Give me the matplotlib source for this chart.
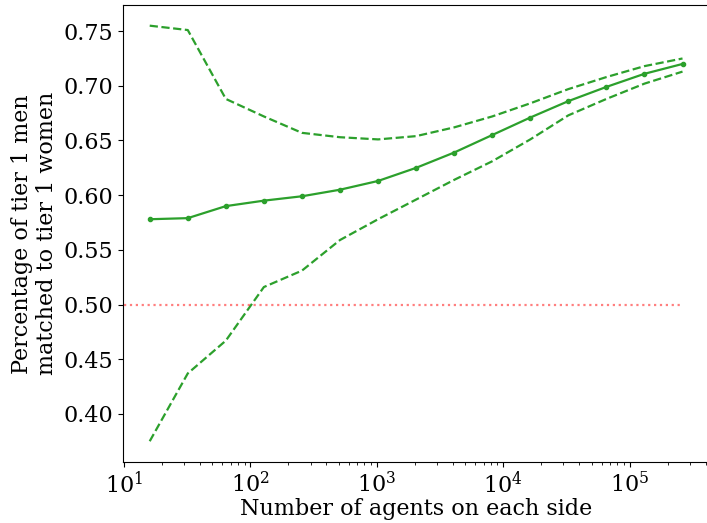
import numpy as np
import matplotlib
matplotlib.use('Agg')
import matplotlib.pyplot as plt

# number of agents on each side (powers of two)
n_agents = [16, 32, 64, 128, 256, 512, 1024, 2048, 4096, 8192,
            16384, 32768, 65536, 131072, 262144]

# mean share of tier 1 men matched to tier 1 women
mean_share = [0.578, 0.579, 0.590, 0.595, 0.599, 0.605, 0.613, 0.625,
              0.639, 0.655, 0.671, 0.686, 0.699, 0.711, 0.720]

# upper and lower bands
upper_share = [0.755, 0.751, 0.688, 0.672, 0.657, 0.653, 0.651, 0.654,
               0.662, 0.672, 0.684, 0.697, 0.708, 0.718, 0.725]
lower_share = [0.375, 0.437, 0.467, 0.516, 0.531, 0.559, 0.578, 0.596,
               0.614, 0.631, 0.651, 0.673, 0.688, 0.702, 0.713]

plt.rcParams['font.family'] = 'serif'
plt.rcParams['font.size'] = 16

fig = plt.figure(figsize=(7.07, 5.23), dpi=100)
ax = fig.add_axes([0.174, 0.1166, 0.829, 0.873])

ax.plot(n_agents, mean_share, color='tab:green', marker='.', markersize=6, linewidth=1.6)
ax.plot(n_agents, upper_share, color='tab:green', linestyle='--', linewidth=1.6)
ax.plot(n_agents, lower_share, color='tab:green', linestyle='--', linewidth=1.6)

ax.set_xscale('log')
ax.set_ylim(0.356, 0.7735)
ax.hlines(0.5, 10, n_agents[-1], color='red', alpha=0.5, linestyle=':', linewidth=1.6)
ax.set_xlim(10 ** 0.993, 10 ** 5.629)

ax.set_xlabel('Number of agents on each side', labelpad=0)
ax.set_ylabel('Percentage of tier 1 men\nmatched to tier 1 women')

fig.savefig('out.png', dpi=100)
plt.close()
